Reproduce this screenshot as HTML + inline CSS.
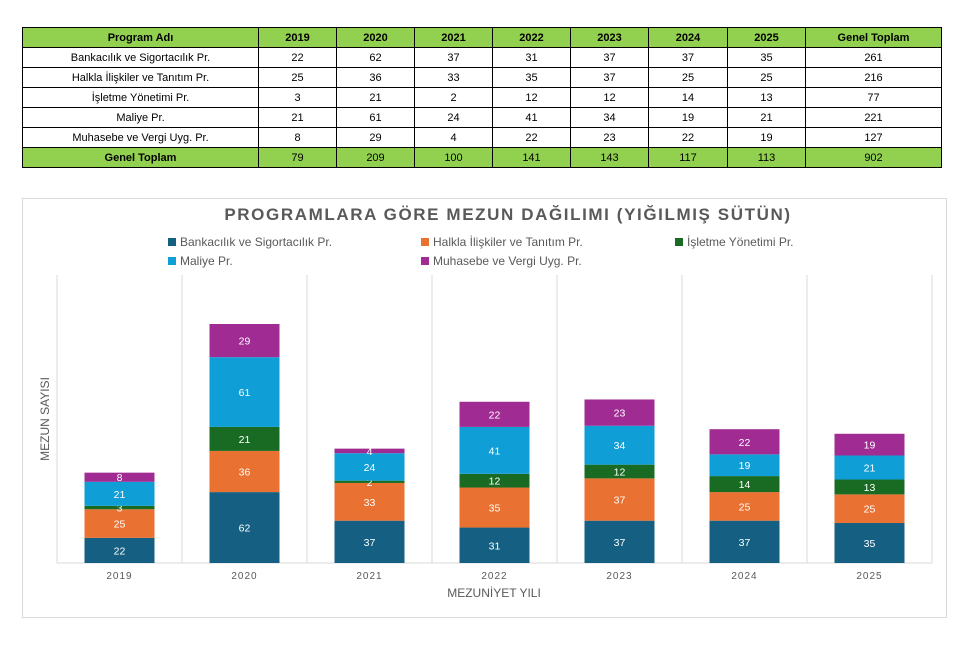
<!DOCTYPE html>
<html><head><meta charset="utf-8">
<style>
body{margin:0;width:975px;height:649px;background:#fff;font-family:"Liberation Sans",sans-serif;position:relative;overflow:hidden}
table{position:absolute;left:22px;top:27px;border-collapse:collapse;font-size:11px}
td{border:1px solid #000;height:19px;padding:0;text-align:center;color:#000}
tr.h td,tr.t td{background:#92d050}
tr.h td{font-weight:bold}
tr.t td:first-child{font-weight:bold}
#chart{position:absolute;left:22px;top:198px;width:923px;height:418px;border:1px solid #d9d9d9}
</style></head><body>
<table>
<colgroup><col style="width:236px"><col style="width:78px"><col style="width:78px"><col style="width:78px"><col style="width:78px"><col style="width:78px"><col style="width:79px"><col style="width:78px"><col style="width:136px"></colgroup>
<tr class="h"><td>Program Adı</td><td>2019</td><td>2020</td><td>2021</td><td>2022</td><td>2023</td><td>2024</td><td>2025</td><td>Genel Toplam</td></tr>
<tr><td>Bankacılık ve Sigortacılık Pr.</td><td>22</td><td>62</td><td>37</td><td>31</td><td>37</td><td>37</td><td>35</td><td>261</td></tr>
<tr><td>Halkla İlişkiler ve Tanıtım Pr.</td><td>25</td><td>36</td><td>33</td><td>35</td><td>37</td><td>25</td><td>25</td><td>216</td></tr>
<tr><td>İşletme Yönetimi Pr.</td><td>3</td><td>21</td><td>2</td><td>12</td><td>12</td><td>14</td><td>13</td><td>77</td></tr>
<tr><td>Maliye Pr.</td><td>21</td><td>61</td><td>24</td><td>41</td><td>34</td><td>19</td><td>21</td><td>221</td></tr>
<tr><td>Muhasebe ve Vergi Uyg. Pr.</td><td>8</td><td>29</td><td>4</td><td>22</td><td>23</td><td>22</td><td>19</td><td>127</td></tr>
<tr class="t"><td>Genel Toplam</td><td>79</td><td>209</td><td>100</td><td>141</td><td>143</td><td>117</td><td>113</td><td>902</td></tr>
</table>
<div id="chart"></div>
<svg id="svg" width="975" height="649" style="position:absolute;left:0;top:0"></svg>
<script>
const categories=["2019","2020","2021","2022","2023","2024","2025"];
const seriesNames=["Bankacılık ve Sigortacılık Pr.","Halkla İlişkiler ve Tanıtım Pr.","İşletme Yönetimi Pr.","Maliye Pr.","Muhasebe ve Vergi Uyg. Pr."];
const bankacilik=[22,62,37,31,37,37,35];
const halkla=[25,36,33,35,37,25,25];
const isletme=[3,21,2,12,12,14,13];
const maliye=[21,61,24,41,34,19,21];
const muhasebe=[8,29,4,22,23,22,19];
const series=[bankacilik,halkla,isletme,maliye,muhasebe];
const colors=["#156082","#e97132","#196b24","#0f9ed5","#a02b93"];
const NS="http://www.w3.org/2000/svg";
const svg=document.getElementById('svg');
const plotL=57,plotR=932,base=563,scale=239/209;
const band=(plotR-plotL)/categories.length,bw=70;
const x=i=>plotL+band*i+band/2;
const y=v=>base-v*scale;
function mk(t,a,txt){const e=document.createElementNS(NS,t);for(const k in a)e.setAttribute(k,a[k]);if(txt!==undefined)e.textContent=txt;svg.appendChild(e);return e;}
let e;
for(let i=0;i<=categories.length;i++){
 e=mk('line',{x1:plotL+band*i,x2:plotL+band*i,y1:275,y2:base,stroke:'#d9d9d9'});
 
 
}
e=mk('line',{x1:plotL,x2:plotR,y1:base,y2:base,stroke:'#d9d9d9'});


categories.forEach((c,i)=>{
 let cum=0;
 series.forEach((s,j)=>{
  const v=s[i];
  const r=mk('rect',{x:x(i)-bw/2,y:y(cum+v),width:bw,height:v*scale,fill:colors[j]});
  
  
  const t=mk('text',{x:x(i),y:y(cum+v/2)+4,'text-anchor':'middle','font-size':'10.5',fill:'#fff'},v);
  
  
  cum+=v;
 });
 const l=mk('text',{x:x(i),y:579,'text-anchor':'middle','font-size':'10',fill:'#595959','letter-spacing':'1'},c);
 
 
});
e=mk('text',{x:508,y:220,'text-anchor':'middle','font-size':'17','font-weight':'bold',fill:'#595959','letter-spacing':'1.6'},'PROGRAMLARA GÖRE MEZUN DAĞILIMI (YIĞILMIŞ SÜTÜN)');


e=mk('text',{x:494,y:597,'text-anchor':'middle','font-size':'12',fill:'#595959'},'MEZUNİYET YILI');


e=mk('text',{x:0,y:0,'text-anchor':'middle','font-size':'12',fill:'#595959',transform:'translate(49,419) rotate(-90)'},'MEZUN SAYISI');


const legPos=[[168,246],[421,246],[675,246],[168,265],[421,265]];
seriesNames.forEach((n,j)=>{
 const r=mk('rect',{x:legPos[j][0],y:legPos[j][1]-8,width:8,height:8,fill:colors[j]});
 
 
 const t=mk('text',{x:legPos[j][0]+12,y:legPos[j][1],'font-size':'12',fill:'#595959'},n);
 
 
});
</script>
</body></html>
